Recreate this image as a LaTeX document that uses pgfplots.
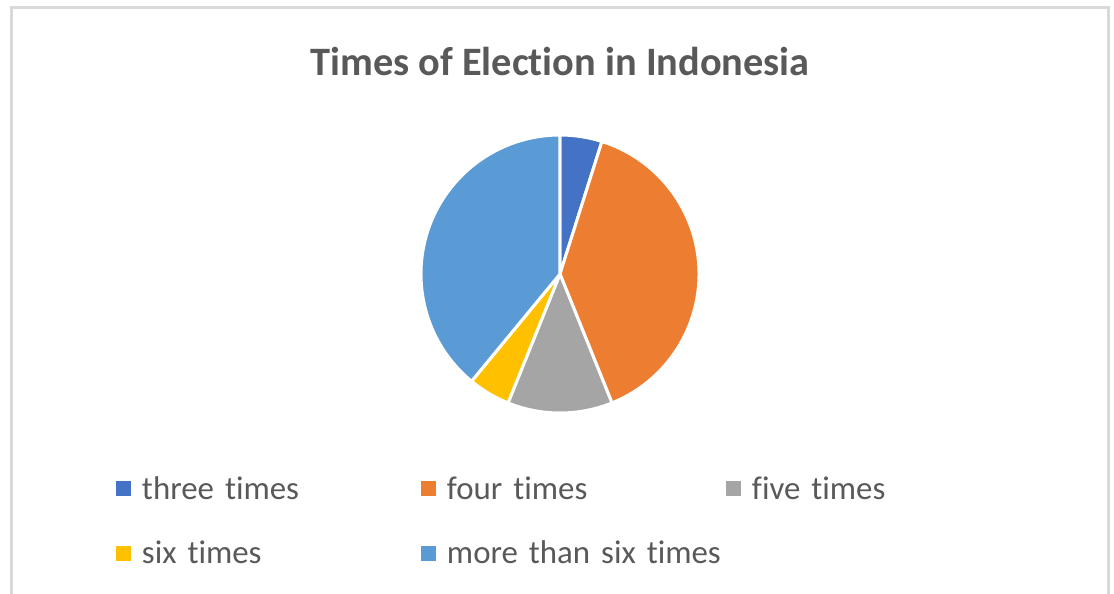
\documentclass[border=0pt]{standalone}
\usepackage{fontspec}
\setmainfont{Carlito}[Ligatures=NoCommon]
\usepackage{pgfplots}
\usepackage{pgfplotstable}
\pgfplotsset{compat=1.18}
\definecolor{pie0}{HTML}{4472C4}
\definecolor{pie1}{HTML}{ED7D31}
\definecolor{pie2}{HTML}{A5A5A5}
\definecolor{pie3}{HTML}{FFC000}
\definecolor{pie4}{HTML}{5B9BD5}
\definecolor{txtgrey}{HTML}{595959}
\definecolor{framegrey}{HTML}{D9D9D9}

\pgfplotstableread{
label value
three 2
four 16
five 5
six 2
more 16
}\piedata

\begin{document}
\begin{tikzpicture}
\useasboundingbox (0,0) rectangle (557bp,297bp);
% angles of the slices, clockwise from the top
\pgfplotstablegetrowsof{\piedata}
\pgfmathtruncatemacro{\nrows}{\pgfplotsretval-1}
\gdef\pietotal{0}
\gdef\piecum{0}
\foreach \i in {0,...,\nrows}{%
  \pgfplotstablegetelem{\i}{value}\of\piedata
  \pgfmathparse{\pietotal+\pgfplotsretval}\xdef\pietotal{\pgfmathresult}}
\foreach \i in {0,...,\nrows}{%
  \pgfplotstablegetelem{\i}{value}\of\piedata
  \pgfmathparse{90-360*\piecum/\pietotal}\expandafter\xdef\csname piestart\i\endcsname{\pgfmathresult}%
  \pgfmathparse{\piecum+\pgfplotsretval}\xdef\piecum{\pgfmathresult}%
  \pgfmathparse{90-360*\piecum/\pietotal}\expandafter\xdef\csname pieend\i\endcsname{\pgfmathresult}}
\begin{axis}[
  at={(0,0)}, anchor=south west,
  x=0.5bp, y=0.5bp, xmin=0, xmax=1114, ymin=0, ymax=594,
  hide axis, clip=false,
  legend columns=3,
  legend cell align=left,
  legend image code/.code={\fill[#1] (0bp,-3.75bp) rectangle (7.5bp,3.75bp);},
  legend style={draw=none, fill=none, inner sep=0pt, outer sep=0pt,
    at={(axis cs:116,119)}, anchor=north west, row sep=19bp,
    font=\fontsize{16.5}{20}\selectfont, text=txtgrey,
    nodes={inner sep=0pt},
    /tikz/every odd column/.append style={column sep=5.5bp},
    /tikz/every even column/.append style={text width=139.5bp, align=left, text height=12bp, text depth=4bp}},
]
\draw[framegrey, line width=1.5bp] (axis cs:11.5,-20) -- (axis cs:11.5,586.5) -- (axis cs:1109,586.5) -- (axis cs:1109,-20);
\node[anchor=base, font=\bfseries\fontsize{20.25}{24}\selectfont, text=txtgrey] at (axis cs:560,519) {Times of Election in Indonesia};
\pgfplotsinvokeforeach{0,...,4}{%
  \fill[pie#1, draw=white, line width=1.5bp, line join=round]
    (axis cs:560,320) -- ++(\csname piestart#1\endcsname:69.5bp)
    arc[start angle=\csname piestart#1\endcsname, end angle=\csname pieend#1\endcsname, radius=69.5bp] -- cycle;
}
\addlegendimage{fill=pie0, draw=none}\addlegendentry{three times}
\addlegendimage{fill=pie1, draw=none}\addlegendentry{four times}
\addlegendimage{fill=pie2, draw=none}\addlegendentry{five times}
\addlegendimage{fill=pie3, draw=none}\addlegendentry{six times}
\addlegendimage{fill=pie4, draw=none}\addlegendentry{more than six times}
\end{axis}
\end{tikzpicture}
\end{document}
